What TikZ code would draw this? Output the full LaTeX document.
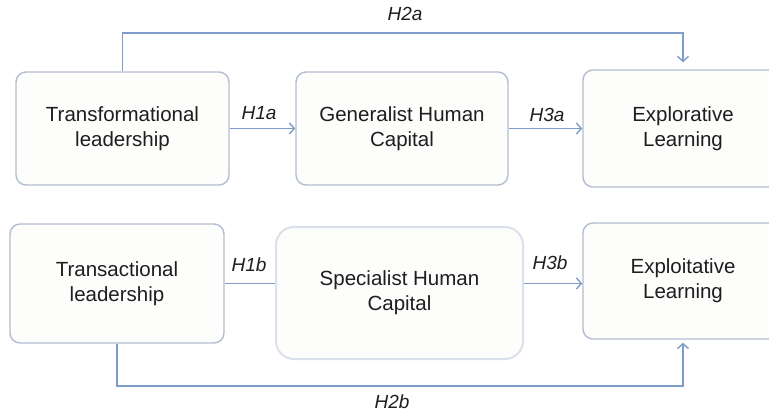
\documentclass[tikz,border=0pt]{standalone}
\usepackage{fontspec}
\setmainfont{Liberation Sans}
\usetikzlibrary{arrows.meta}
\definecolor{boxline}{RGB}{178,190,208}
\definecolor{boxlinelight}{RGB}{218,225,236}
\definecolor{boxfill}{RGB}{253,253,252}
\definecolor{arrowcol}{RGB}{128,156,200}
\definecolor{txt}{RGB}{30,30,30}
\tikzset{
  box/.style={draw=boxline, line width=1.4pt, fill=boxfill, rounded corners=10pt,
    align=center, text=txt, font=\fontsize{20.5}{25}\selectfont, inner sep=0pt},
  softbox/.style={box, draw=boxlinelight, line width=2pt, rounded corners=18pt},
  conn/.style={draw=arrowcol, line width=1.4pt},
  arr/.style={conn, -{Straight Barb[length=5pt,width=11pt,line width=1.4pt]}},
  hyp/.style={text=txt, font=\fontsize{19}{22}\selectfont\itshape, inner sep=0pt}
}
\begin{document}
\begin{tikzpicture}[x=1pt,y=-1pt]
\useasboundingbox (0,0) rectangle (769,412);
\fill[white] (0,0) rectangle (769,412);
\node[box, minimum width=213pt, minimum height=113pt] (tf) at (122.5,128.5) {Transformational\\leadership};
\node[box, minimum width=212pt, minimum height=113pt] (gh) at (402,128.5) {Generalist Human\\Capital};
\node[box, minimum width=200pt, minimum height=117pt] (el) at (683,128.5) {Explorative\\Learning};
\node[box, minimum width=214pt, minimum height=119pt] (tr) at (117,283.5) {Transactional\\leadership};
\node[softbox, minimum width=247pt, minimum height=132pt] (sh) at (399.5,293) {Specialist Human\\Capital};
\node[box, minimum width=200pt, minimum height=116pt] (xl) at (683,281) {Exploitative\\Learning};
\coordinate (top) at (0,33);
\coordinate (bot) at (0,386);
% connectors
\draw[arr] (tf.east) -- (gh.west);
\draw[arr] (gh.east) -- (el.west);
\draw[conn] (tr.east) -- (tr.east -| sh.west);
\draw[arr] (tr.east -| sh.east) -- (tr.east -| xl.west);
\draw[arr, shorten >=7pt] (tf.north) -- (tf.north |- top) -| (el.north);
\draw[arr, shorten >=3pt] (tr.south) -- (tr.south |- bot) -| (xl.south);
% labels
\node[hyp] (h2a) at (405,14) {H2a};
\node[hyp] (h1a) at (259,113) {H1a};
\node[hyp] (h3a) at (547,115) {H3a};
\node[hyp] (h1b) at (249,265) {H1b};
\node[hyp] (h3b) at (550,263) {H3b};
\node[hyp] (h2b) at (392,402) {H2b};
\end{tikzpicture}
\end{document}
